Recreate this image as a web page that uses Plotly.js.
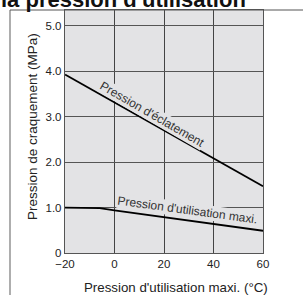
<!DOCTYPE html>
<html><head><meta charset="utf-8">
<script src="https://cdn.plot.ly/plotly-3.0.1.min.js"></script>
<style>html,body{margin:0;padding:0;background:#fff}#c{width:303px;height:295px}</style>
</head><body><div id="c"></div>
<script>
const burstTemps = [-20, 60];
const burstPressure = [3.93, 1.47];
const maxTemps = [-20, -6, 0, 20, 40, 60];
const maxPressure = [1.0, 0.99, 0.94, 0.79, 0.64, 0.49];
const xTicks = [-20, 0, 20, 40, 60];
const yTicks = [0, 1, 2, 3, 4, 5];
const yTickText = ["0", "1.0", "2.0", "3.0", "4.0", "5.0"];
const labels = ["Pression d'éclatement", "Pression d'utilisation maxi."];
const xTitle = "Pression d'utilisation maxi. (°C)";
const yTitle = "Pression de craquement (MPa)";
const topText = "la pression d'utilisation";

const L = 65, R = 40, T = 10, B = 42, W = 303, H = 295;
const pw = W - L - R, ph = H - T - B;
const px = v => (v - L) / pw;
const py = v => (H - B - v) / ph;
const bg = '#e3e3e5';
const font = 'Liberation Sans, Arial, sans-serif';

const data = [
  {x: burstTemps, y: burstPressure, mode: 'lines', line: {color: '#000', width: 1.8}, hoverinfo: 'skip'},
  {x: maxTemps, y: maxPressure, mode: 'lines', line: {color: '#000', width: 1.8}, hoverinfo: 'skip'}
];
const layout = {
  width: W, height: H,
  margin: {l: L, r: R, t: T, b: B},
  paper_bgcolor: '#fff', plot_bgcolor: bg,
  showlegend: false,
  font: {family: font, size: 11, color: '#222'},
  xaxis: {range: [-20, 60], tickvals: xTicks, ticks: '', showgrid: true, gridcolor: '#444', gridwidth: 1,
    zeroline: false, showline: true, linecolor: '#555', linewidth: 1.2, mirror: true,
    tickfont: {size: 11.5, color: '#222'}},
  yaxis: {range: [0, 5.35], tickvals: yTicks, ticktext: yTickText, ticks: '', showgrid: true, gridcolor: '#555', gridwidth: 1,
    zeroline: false, showline: true, linecolor: '#555', linewidth: 1.2, mirror: true,
    tickfont: {size: 11.5, color: '#222'}},
  shapes: [
    {type: 'line', xref: 'paper', yref: 'paper', x0: px(10), x1: px(10), y0: py(10), y1: py(295), line: {color: '#777', width: 1.2}},
    {type: 'line', xref: 'paper', yref: 'paper', x0: px(10), x1: px(303), y0: py(10), y1: py(10), line: {color: '#555', width: 1}}
  ],
  annotations: [
    {text: '<b>' + topText + '</b>', xref: 'paper', yref: 'paper', x: px(-1), y: py(-1), xanchor: 'left', yanchor: 'middle',
      showarrow: false, font: {size: 22, color: '#111', family: font}},
    {text: yTitle, xref: 'paper', yref: 'paper', x: px(32), y: py(127), xanchor: 'center', yanchor: 'middle', textangle: -90,
      showarrow: false, font: {size: 13.5, color: '#222'}},
    {text: xTitle, xref: 'paper', yref: 'paper', x: px(176), y: py(287), xanchor: 'center', yanchor: 'middle',
      showarrow: false, font: {size: 13.3, color: '#222'}},
    {text: labels[0], xref: 'x', yref: 'y', x: 15.0, y: 3.05, textangle: 30, showarrow: false,
      font: {size: 12, color: '#333'}, bgcolor: bg, borderpad: 0},
    {text: labels[1], xref: 'x', yref: 'y', x: 29.4, y: 0.95, textangle: 7.8, showarrow: false,
      font: {size: 12, color: '#333'}, bgcolor: bg, borderpad: 0}
  ]
};
Plotly.newPlot('c', data, layout, {displayModeBar: false, staticPlot: true});
</script></body></html>
